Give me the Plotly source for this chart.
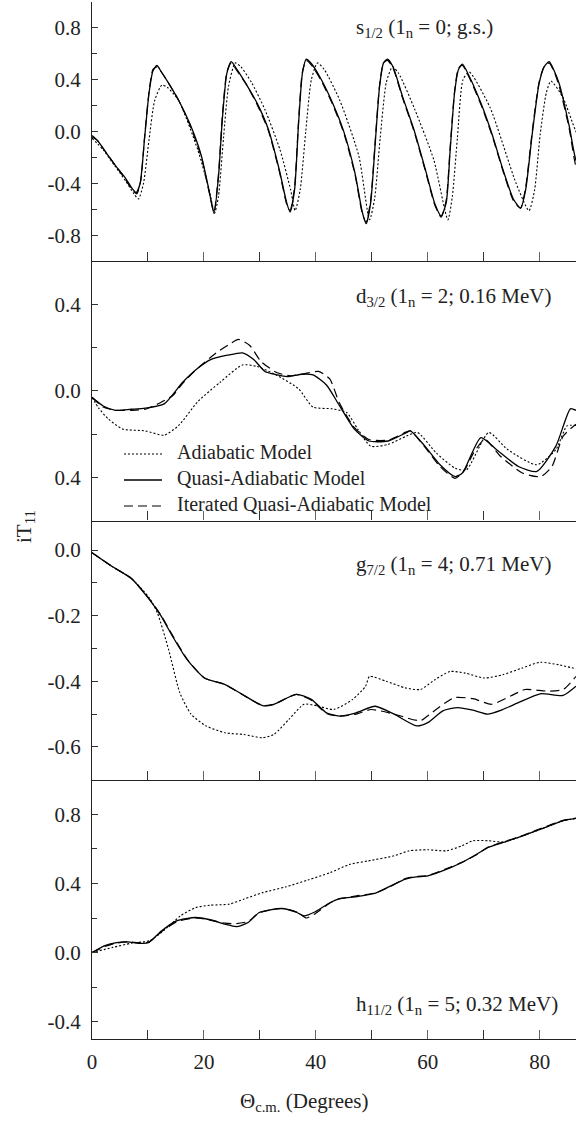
import plotly.graph_objects as go
from plotly.subplots import make_subplots

# ---------------- Panel 1: s1/2 ----------------
s_x_quasi = [0, 1, 2, 4, 6, 7.2, 7.9, 8.6, 9.4, 10.2, 10.9, 11.6, 12.4, 13.6, 15.5, 17.5, 19.5, 20.9, 21.8,
             22.6, 23.3, 24.1, 24.9, 25.9, 27.5, 29.5, 31.5, 33.5, 34.8, 35.4, 36.2, 36.9, 37.6, 38.3,
             39.3, 41, 43, 45, 47, 48.3, 49.0, 49.8, 50.6, 51.4, 52.1, 52.8, 53.8, 55.5, 57.5, 59.5,
             61.3, 62.4, 63.3, 64.0, 64.8, 65.5, 66.2, 67.5, 69.5, 71.5, 73.5, 75.3, 76.6, 77.5, 78.7,
             79.9, 80.8, 81.7, 82.6, 83.5, 85.3, 86.5, 87.5]
s_quasi = [-0.04, -0.07, -0.13, -0.25, -0.36, -0.44, -0.47, -0.40, -0.05, 0.30, 0.47, 0.51, 0.46, 0.38,
           0.24, 0.06, -0.18, -0.45, -0.63, -0.35, 0.10, 0.45, 0.54, 0.48, 0.37, 0.22, 0.02, -0.30, -0.55,
           -0.62, -0.45, 0.05, 0.45, 0.56, 0.52, 0.40, 0.22, 0.00, -0.32, -0.62, -0.71, -0.55, -0.10, 0.35,
           0.53, 0.56, 0.50, 0.27, 0.02, -0.28, -0.56, -0.65, -0.55, -0.15, 0.30, 0.48, 0.52, 0.42, 0.22,
           -0.02, -0.30, -0.52, -0.59, -0.45, -0.01, 0.37, 0.50, 0.54, 0.47, 0.37, 0.04, -0.22, -0.28]
s_x_iter = [0, 1, 2, 4, 6, 7.2, 8.0, 8.7, 9.4, 10.2, 10.9, 11.6, 12.4, 13.6, 15.5, 17.5, 19.5, 20.9, 21.8,
            22.6, 23.3, 24.1, 24.9, 25.9, 27.5, 29.5, 31.5, 33.5, 34.8, 35.4, 36.2, 36.9, 37.6, 38.3,
            39.3, 41, 43, 45, 47, 48.3, 49.0, 49.8, 50.6, 51.4, 52.1, 52.8, 53.8, 55.5, 57.5, 59.5,
            61.3, 62.4, 63.3, 64.0, 64.8, 65.5, 66.2, 67.5, 69.5, 71.5, 73.5, 75.3, 76.6, 77.5, 78.7,
            79.9, 80.8, 81.7, 82.6, 83.5, 85.3, 86.5, 87.5]
s_iter = [-0.03, -0.07, -0.13, -0.25, -0.37, -0.45, -0.48, -0.38, -0.04, 0.31, 0.48, 0.50, 0.46, 0.38,
          0.24, 0.05, -0.19, -0.46, -0.62, -0.33, 0.12, 0.46, 0.53, 0.47, 0.37, 0.21, 0.01, -0.31, -0.56,
          -0.61, -0.43, 0.07, 0.46, 0.55, 0.51, 0.39, 0.21, -0.01, -0.33, -0.63, -0.70, -0.53, -0.08, 0.36,
          0.53, 0.55, 0.49, 0.26, 0.01, -0.29, -0.57, -0.66, -0.53, -0.13, 0.31, 0.49, 0.51, 0.41, 0.21,
          -0.03, -0.31, -0.53, -0.59, -0.43, 0.01, 0.38, 0.50, 0.53, 0.46, 0.35, 0.02, -0.27, -0.35]
s_x_adia = [0, 2, 4, 6, 7.5, 8.3, 9.2, 10.2, 11.2, 12.5, 13.5, 15.5, 18.9, 21.0, 21.9, 22.6, 23.5, 24.4,
            25.6, 26.6, 28.5, 30.9, 33.6, 35.5, 36.3, 37.2, 38.2, 39.2, 40.3, 41.5, 44.3, 47.7, 49.6,
            50.5, 51.5, 52.6, 53.7, 54.8, 57.7, 61.1, 63.6, 64.4, 65.3, 66.3, 67.4, 71.1, 75.8, 78.1,
            79.1, 80.1, 81.2, 82.0, 84.1, 86.4, 88.8]
s_adia = [-0.05, -0.14, -0.26, -0.38, -0.48, -0.52, -0.40, -0.06, 0.24, 0.36, 0.34, 0.24, -0.14, -0.46,
          -0.63, -0.50, -0.05, 0.35, 0.53, 0.50, 0.38, 0.17, -0.14, -0.45, -0.61, -0.45, 0.00, 0.40,
          0.53, 0.48, 0.24, -0.19, -0.68, -0.52, -0.05, 0.38, 0.50, 0.45, 0.17, -0.22, -0.68, -0.50,
          -0.05, 0.40, 0.46, 0.19, -0.40, -0.61, -0.45, -0.02, 0.30, 0.39, 0.27, 0.01, -0.19]

# ---------------- Panel 2: d3/2 ----------------
d_x_quasi = [0, 2, 4.2, 7, 9.5, 12.9, 16.2, 18.9, 21.2, 24.2, 26.9, 28.9, 30.9, 32.9, 34.9, 37.5, 39.5,
             41.9, 44.2, 46.9, 49.5, 52.9, 56.2, 56.9, 59.5, 62.2, 64.9, 66.2, 69.5, 72.2, 76.2, 79.5,
             82.9, 85.5, 86.5]
d_quasi = [-0.03, -0.07, -0.09, -0.085, -0.08, -0.06, 0.04, 0.105, 0.145, 0.165, 0.176, 0.145, 0.09,
           0.075, 0.066, 0.077, 0.074, 0.027, -0.067, -0.177, -0.232, -0.232, -0.193, -0.185, -0.256,
           -0.342, -0.397, -0.38, -0.216, -0.27, -0.35, -0.373, -0.256, -0.083, -0.09]
d_x_iter = [0, 2, 4.2, 7, 9.5, 12.2, 14.5, 16.2, 18.9, 22.2, 24.5, 26.2, 28.2, 30.2, 33, 35.5, 38,
            40.5, 42.5, 44.2, 46.9, 49.5, 52.9, 56.2, 56.9, 59.5, 62.2, 64.9, 66.5, 68.2, 70.2, 72.9,
            76.9, 80.2, 82.2, 84.2, 86.5]
d_iter = [-0.03, -0.075, -0.09, -0.09, -0.085, -0.055, -0.02, 0.035, 0.105, 0.176, 0.215, 0.238, 0.21,
          0.136, 0.085, 0.07, 0.08, 0.09, 0.055, -0.055, -0.17, -0.225, -0.228, -0.19, -0.185, -0.26,
          -0.35, -0.405, -0.37, -0.287, -0.224, -0.30, -0.38, -0.397, -0.35, -0.21, -0.154]
d_x_adia = [0, 1.2, 2.9, 5.5, 9.5, 12.9, 15.5, 18.9, 22.9, 26.9, 29.5, 32.9, 36.9, 39.5, 42.9, 45.5,
            47.5, 49.8, 52.9, 56.2, 58.2, 61.5, 64.9, 66.9, 70.9, 74.2, 79.5, 82.9, 84.9, 86.5]
d_adia = [-0.03, -0.08, -0.13, -0.177, -0.185, -0.205, -0.16, -0.05, 0.04, 0.12, 0.113, 0.074, 0.01,
          -0.075, -0.083, -0.10, -0.177, -0.256, -0.248, -0.209, -0.193, -0.287, -0.358, -0.366, -0.193,
          -0.27, -0.342, -0.272, -0.162, -0.16]

# ---------------- Panel 3: g7/2 ----------------
g_x_quasi = [0, 3.6, 7.0, 10.3, 12.3, 14.4, 17.0, 20.1, 23.8, 26.4, 30.5, 32.5, 36.5, 39.2, 41.9, 44.2,
             47.2, 50.6, 54.0, 58.0, 60.0, 62.7, 65.4, 68.1, 70.7, 73.4, 76.1, 80.1, 84.2, 86.5]
g_quasi = [-0.008, -0.05, -0.086, -0.152, -0.20, -0.263, -0.334, -0.39, -0.41, -0.435, -0.474, -0.47,
           -0.44, -0.455, -0.496, -0.506, -0.496, -0.476, -0.50, -0.536, -0.526, -0.49, -0.48, -0.488,
           -0.50, -0.486, -0.466, -0.438, -0.443, -0.415]
g_x_iter = [0, 3.6, 7.0, 10.3, 12.3, 14.4, 17.0, 20.1, 23.8, 26.4, 30.5, 32.5, 36.5, 39.2, 41.9, 44.2,
            47.2, 49.9, 54.0, 58.7, 60.7, 64.7, 68.1, 71.4, 74.8, 77.4, 81.5, 84.2, 86.5]
g_iter = [-0.008, -0.05, -0.086, -0.15, -0.198, -0.26, -0.332, -0.39, -0.41, -0.436, -0.474, -0.47,
          -0.44, -0.458, -0.498, -0.506, -0.50, -0.486, -0.50, -0.52, -0.496, -0.45, -0.453, -0.47,
          -0.445, -0.425, -0.43, -0.425, -0.385]
g_x_adia = [0, 3.6, 7.0, 10.3, 11.7, 13.7, 15.7, 17.7, 20.4, 23.8, 27.1, 30.5, 32.5, 35.2, 37.9, 40.5,
            43.2, 46.6, 48.9, 49.6, 52.6, 56.0, 58.7, 61.3, 64.0, 66.7, 70.1, 73.4, 76.8, 80.1, 83.5, 86.5]
g_adia = [-0.008, -0.05, -0.086, -0.147, -0.192, -0.304, -0.435, -0.50, -0.536, -0.557, -0.562, -0.572,
          -0.562, -0.516, -0.47, -0.476, -0.486, -0.455, -0.415, -0.385, -0.40, -0.42, -0.425, -0.395,
          -0.37, -0.375, -0.39, -0.38, -0.36, -0.342, -0.35, -0.362]

# ---------------- Panel 4: h11/2 ----------------
h_x_quasi = [0, 2.3, 4.4, 6.4, 8.4, 10.1, 12.4, 15.1, 18.5, 21.1, 23.8, 25.8, 27.9, 29.9, 33.9, 36.6,
             37.9, 39.9, 42.6, 44.0, 47.3, 50.7, 53.4, 56.0, 58.0, 60.0, 64.1, 66.1, 68.8, 70.8, 73.5,
             76.2, 80.2, 84.2, 86.5]
h_quasi = [0.0, 0.04, 0.058, 0.062, 0.054, 0.058, 0.125, 0.183, 0.203, 0.19, 0.164, 0.15, 0.174, 0.232,
           0.255, 0.232, 0.212, 0.236, 0.29, 0.31, 0.324, 0.344, 0.386, 0.425, 0.438, 0.444, 0.492, 0.521,
           0.57, 0.608, 0.637, 0.666, 0.714, 0.763, 0.776]
h_x_iter = [0, 2.3, 4.4, 6.4, 8.4, 10.1, 12.4, 15.1, 18.5, 21.1, 23.8, 25.8, 27.9, 29.9, 33.9, 36.6,
            38.3, 39.9, 42.6, 44.0, 47.3, 50.7, 53.4, 56.0, 58.0, 60.0, 64.1, 66.1, 68.8, 70.8, 73.5,
            76.2, 80.2, 84.2, 86.5]
h_iter = [0.0, 0.035, 0.055, 0.062, 0.056, 0.06, 0.12, 0.178, 0.2, 0.188, 0.17, 0.168, 0.18, 0.23,
          0.255, 0.235, 0.2, 0.225, 0.288, 0.31, 0.328, 0.346, 0.383, 0.428, 0.44, 0.446, 0.495, 0.522,
          0.568, 0.61, 0.64, 0.668, 0.718, 0.765, 0.778]
h_x_adia = [0, 3.7, 7.0, 10.4, 13.1, 15.8, 18.5, 21.1, 24.5, 27.2, 30.5, 34.6, 38.6, 42.6, 46.0, 49.3,
            54.0, 56.7, 60.0, 63.4, 66.1, 68.1, 70.8, 73.5, 76.2, 80.2, 84.2, 86.5]
h_adia = [0.0, 0.03, 0.054, 0.07, 0.135, 0.212, 0.26, 0.274, 0.28, 0.31, 0.347, 0.38, 0.42, 0.463, 0.51,
          0.53, 0.56, 0.589, 0.595, 0.589, 0.618, 0.647, 0.647, 0.64, 0.666, 0.714, 0.763, 0.776]

series_names = ["Adiabatic Model", "Quasi-Adiabatic Model", "Iterated Quasi-Adiabatic Model"]
panel_labels = ["s<sub>1/2</sub> (1<sub>n</sub> = 0; g.s.)",
                "d<sub>3/2</sub> (1<sub>n</sub> = 2; 0.16 MeV)",
                "g<sub>7/2</sub> (1<sub>n</sub> = 4; 0.71 MeV)",
                "h<sub>11/2</sub> (1<sub>n</sub> = 5; 0.32 MeV)"]

panels = [
    [(s_x_adia, s_adia), (s_x_quasi, s_quasi), (s_x_iter, s_iter)],
    [(d_x_adia, d_adia), (d_x_quasi, d_quasi), (d_x_iter, d_iter)],
    [(g_x_adia, g_adia), (g_x_quasi, g_quasi), (g_x_iter, g_iter)],
    [(h_x_adia, h_adia), (h_x_quasi, h_quasi), (h_x_iter, h_iter)],
]

y_ranges = [[-1.0, 1.0], [-0.6, 0.6], [-0.7, 0.09], [-0.5, 1.0]]
y_major = [[-0.8, -0.4, 0.0, 0.4, 0.8], [-0.4, 0.0, 0.4], [-0.6, -0.4, -0.2, 0.0], [-0.4, 0.0, 0.4, 0.8]]
y_major_text = [["-0.8", "-0.4", "0.0", "0.4", "0.8"], ["0.4", "0.0", "0.4"],
                ["-0.6", "-0.4", "-0.2", "0.0"], ["-0.4", "0.0", "0.4", "0.8"]]
y_minor = [[-0.6, -0.2, 0.2, 0.6], [-0.2, 0.2], [-0.5, -0.3, -0.1], [-0.2, 0.2, 0.6]]

x_major = [0, 20, 40, 60, 80]
x_minor = [10, 30, 50, 70]

FONT = "Liberation Serif"
TXT = "#222"
styles = [dict(color="black", width=1.1, dash="2px,2px"),
          dict(color="black", width=1.3, dash="solid"),
          dict(color="black", width=1.2, dash="9px,5px")]

# plot-area geometry (pixels) used to place the hand-made legend and labels
W, H = 588, 1122
ML, MR, MT, MB = 92, 12, 2, 83
PW, PH = W - ML - MR, H - MT - MB


def px_x(px):
    return (px - ML) / PW


def px_y(py):
    return 1 - (py - MT) / PH


fig = make_subplots(rows=4, cols=1, shared_xaxes=True, vertical_spacing=0)

for r, panel in enumerate(panels, start=1):
    for k, (xs, ys) in enumerate(panel):
        fig.add_trace(go.Scatter(x=xs, y=ys, mode="lines", name=series_names[k],
                                 line=dict(shape="spline", smoothing=0.6, **styles[k]),
                                 showlegend=False),
                      row=r, col=1)

for r in range(1, 5):
    fig.update_xaxes(row=r, col=1, range=[0, 86.5], showline=True, linecolor=TXT, linewidth=1.2,
                     ticks="inside", ticklen=9, tickcolor="#666", tickwidth=1,
                     tickvals=x_major, ticktext=[str(v) for v in x_major],
                     minor=dict(tickvals=x_minor, ticks="inside", ticklen=9, tickcolor="#333", tickwidth=1),
                     showgrid=False, zeroline=False, showticklabels=(r == 4),
                     tickfont=dict(family=FONT, size=21, color=TXT), ticklabelstandoff=4)
    fig.update_yaxes(row=r, col=1, range=y_ranges[r - 1], showline=True, linecolor=TXT, linewidth=1.2,
                     ticks="inside", ticklen=6, tickcolor="#333", tickwidth=1,
                     tickvals=y_major[r - 1], ticktext=y_major_text[r - 1],
                     minor=dict(tickvals=y_minor[r - 1], ticks="inside", ticklen=5, tickcolor="#333"),
                     showgrid=False, zeroline=False,
                     tickfont=dict(family=FONT, size=21, color=TXT), ticklabelstandoff=6)

annotations = []
label_py = [28, 297, 565, 1005]
for lbl, py in zip(panel_labels, label_py):
    annotations.append(dict(text=lbl, x=px_x(354), y=px_y(py), xref="paper", yref="paper", xanchor="left",
                            yanchor="middle", showarrow=False, font=dict(family=FONT, size=21, color=TXT)))
annotations.append(dict(text="iT<sub>11</sub>", x=px_x(25), y=px_y(527), xref="paper", yref="paper",
                        xanchor="center", yanchor="middle",
                        textangle=-90, showarrow=False, font=dict(family=FONT, size=21, color=TXT)))
annotations.append(dict(text="Θ<sub>c.m.</sub> (Degrees)", x=px_x(304), y=px_y(1102), xref="paper",
                        yref="paper", xanchor="center", yanchor="middle", showarrow=False,
                        font=dict(family=FONT, size=21, color=TXT)))

# legend (inside the d3/2 panel): line samples + one multi-line text block
LEG_FONT = 20
LEG_MID = 478
LEG_STEP = LEG_FONT * 1.3
shapes = []
for k in range(len(series_names)):
    st = styles[k]
    py = LEG_MID + (k - 1) * LEG_STEP + 2
    shapes.append(dict(type="line", xref="paper", yref="paper", x0=px_x(124), x1=px_x(162),
                       y0=px_y(py), y1=px_y(py),
                       line=dict(color=st["color"], width=st["width"], dash=st["dash"])))
annotations.append(dict(text="<br>".join(series_names), x=px_x(175), y=px_y(LEG_MID), xref="paper",
                        yref="paper", xanchor="left", yanchor="middle", align="left", showarrow=False,
                        font=dict(family=FONT, size=LEG_FONT, color=TXT)))

fig.update_layout(width=W, height=H, margin=dict(l=ML, r=MR, t=MT, b=MB),
                  paper_bgcolor="white", plot_bgcolor="white", annotations=annotations, shapes=shapes,
                  showlegend=False, font=dict(family=FONT, color=TXT))

fig.write_html("out.html", config={"displayModeBar": False},
               post_script="document.body.style.margin='0';")
